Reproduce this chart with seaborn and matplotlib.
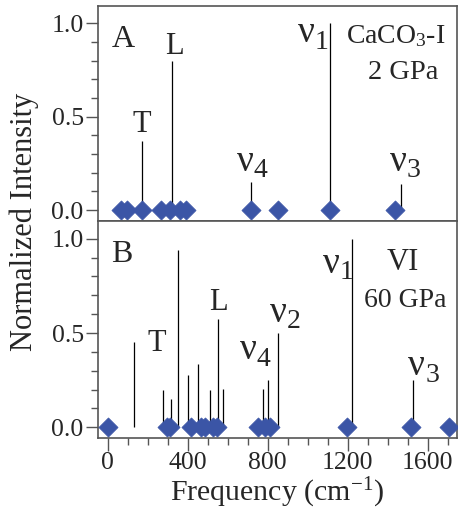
import matplotlib
matplotlib.use("Agg")
import matplotlib.pyplot as plt
import seaborn as sns
import pandas as pd
from matplotlib.ticker import MultipleLocator

# Panel A: CaCO3-I at 2 GPa
a_peak_freq = [173, 323, 716, 1112, 1465]
a_peak_int = [0.37, 0.80, 0.15, 1.0, 0.14]
a_calc_freq = [68, 95, 170, 267, 313, 361, 390, 718, 850, 1113, 1436]

# Panel B: CaCO3-VI at 60 GPa
b_peak_freq = [131, 278, 318, 353, 400, 453, 511, 550, 575, 778, 803, 853, 1223, 1528]
b_peak_int = [0.45, 0.20, 0.15, 0.94, 0.275, 0.335, 0.20, 0.575, 0.205, 0.205, 0.25, 0.50, 1.0, 0.25]
b_calc_freq = [0, 298, 311, 415, 467, 486, 529, 546, 754, 788, 810, 1195, 1515, 1706]

DIAMOND = "#3b55a6"
SPINE = "#555555"

sns.set_theme(style="ticks")
plt.rcParams["font.family"] = ["Liberation Serif", "DejaVu Serif"]
plt.rcParams["mathtext.fontset"] = "custom"
plt.rcParams["mathtext.rm"] = "Liberation Serif"
plt.rcParams["mathtext.it"] = "Liberation Serif:italic"

fig = plt.figure(figsize=(4.58, 5.16), dpi=100)
ax_a = fig.add_axes([0.213, 0.572, 0.784, 0.417])
ax_b = fig.add_axes([0.213, 0.1506, 0.784, 0.4214])


def draw_panel(ax, peak_freq, peak_int, calc_freq):
    ax.vlines(peak_freq, 0, peak_int, color="black", lw=0.9)
    calc = pd.DataFrame({"freq": calc_freq, "y": [0.0] * len(calc_freq)})
    sns.scatterplot(data=calc, x="freq", y="y", marker="D", s=95,
                    color=DIAMOND, edgecolor=DIAMOND, linewidth=0.5, ax=ax, zorder=3)
    ax.set_xlim(-50, 1745)
    ax.set_ylim(-0.058, 1.095)
    ax.xaxis.set_major_locator(MultipleLocator(400))
    ax.xaxis.set_minor_locator(MultipleLocator(100))
    ax.yaxis.set_major_locator(MultipleLocator(0.5))
    ax.yaxis.set_minor_locator(MultipleLocator(0.1))
    ax.yaxis.set_major_formatter(matplotlib.ticker.FormatStrFormatter("%.1f"))
    ax.tick_params(which="major", direction="out", length=9, width=1.0,
                   color=SPINE, labelsize=18.5, pad=1)
    ax.tick_params(which="minor", direction="out", length=5, width=1.0, color=SPINE)
    for s in ax.spines.values():
        s.set_color(SPINE)
        s.set_linewidth(1.2)
    ax.set_xlabel("")
    ax.set_ylabel("")


def nu(ax, x, y, sub, size=27):
    ax.text(x, y, "\u03bd", fontsize=size, ha="center", va="center")
    ax.text(x + 42, y - 0.05, sub, fontsize=20, ha="left", va="center")


draw_panel(ax_a, a_peak_freq, a_peak_int, a_calc_freq)
draw_panel(ax_b, b_peak_freq, b_peak_int, b_calc_freq)
ax_a.tick_params(axis="x", labelbottom=False)

# panel A labels
ax_a.text(80, 0.915, "A", fontsize=23, ha="center", va="center")
ax_a.text(170, 0.46, "T", fontsize=22, ha="center", va="center")
ax_a.text(333, 0.875, "L", fontsize=22, ha="center", va="center")
nu(ax_a, 690, 0.26, "4")
nu(ax_a, 995, 0.95, "1")
nu(ax_a, 1455, 0.26, "3")
ax_a.text(1440, 0.93, "CaCO$_3$-I", fontsize=20, ha="center", va="center")
ax_a.text(1476, 0.735, "2 GPa", fontsize=20.5, ha="center", va="center")

# panel B labels
ax_b.text(73, 0.915, "B", fontsize=23, ha="center", va="center")
ax_b.text(245, 0.445, "T", fontsize=22, ha="center", va="center")
ax_b.text(553, 0.66, "L", fontsize=22, ha="center", va="center")
nu(ax_b, 705, 0.41, "4")
nu(ax_b, 855, 0.61, "2")
nu(ax_b, 1120, 0.87, "1")
nu(ax_b, 1546, 0.325, "3")
ax_b.text(1478, 0.875, "VI", fontsize=22, ha="center", va="center")
ax_b.text(1487, 0.67, "60 GPa", fontsize=20, ha="center", va="center")

ax_b.set_xlabel("Frequency (cm$^{-1}$)", fontsize=21.5, labelpad=1)
fig.text(0.052, 0.57, "Normalized Intensity", fontsize=22, rotation=90,
         ha="center", va="center")

fig.savefig("out.png", dpi=100)
